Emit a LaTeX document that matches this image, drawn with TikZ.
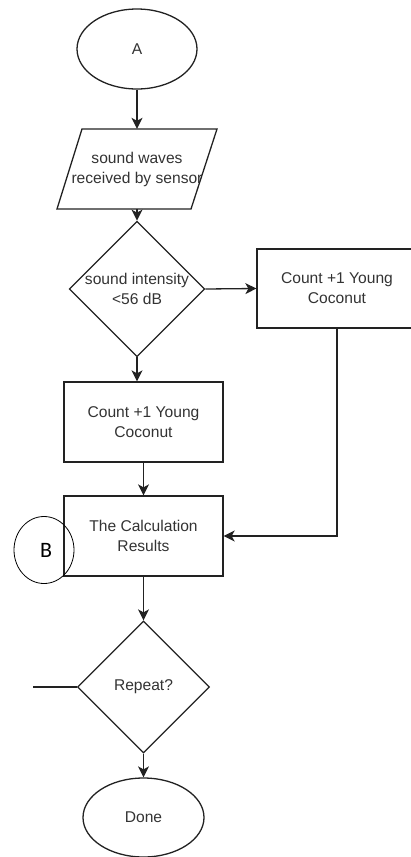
\documentclass[tikz,border=0pt]{standalone}
\usepackage{fontspec}
\setmainfont{Liberation Sans}
\newfontfamily\bfont{Carlito}
\usetikzlibrary{shapes.geometric,arrows.meta}
\definecolor{linec}{HTML}{222222}
\definecolor{textc}{HTML}{333333}
\tikzset{
  base/.style={draw=linec, line width=1.3pt, text=textc, align=center, inner sep=0pt,
    font=\fontsize{15.6}{20}\selectfont},
  term/.style={base, ellipse, minimum width=120pt, minimum height=80pt},
  procbox/.style={base, rectangle, minimum width=159pt, minimum height=80pt},
  decision/.style={base, diamond, aspect=1, minimum width=132pt, minimum height=132pt},
  iobox/.style={rectangle, text=textc, align=center, inner sep=0pt, minimum width=110pt, minimum height=80pt,
    font=\fontsize{15.6}{20}\selectfont},
  conn/.style={draw=linec, line width=1.3pt, -{Stealth[length=11pt,width=11pt,inset=3pt]}},
  plainline/.style={draw=linec, line width=1.3pt},
  marker/.style={draw=black, line width=0.8pt, ellipse, minimum width=60pt, minimum height=67pt, inner sep=0pt,
    font=\bfont\fontsize{22}{24}\selectfont}
}
\begin{document}
\begin{tikzpicture}[x=1pt,y=-1pt]
\useasboundingbox (0,0) rectangle (411,857);
\clip (0,0) rectangle (411,857);
\node[term] (A) at (137,49) {A};
\node[iobox] (io) at (137,169) {sound waves\\received by sensor};
\draw[draw=linec, line width=1.3pt] (82,129) -- (217,129) -- (191,209) -- (57,209) -- cycle;
\node[decision] (d1) at (137,289) {sound intensity\\<56 dB};
\node[procbox, minimum width=160pt, minimum height=79pt] (R) at (337,288.5) {Count +1 Young\\Coconut};
\node[procbox] (L) at (143.5,422) {Count +1 Young\\Coconut};
\node[procbox] (C) at (143.5,536) {The Calculation\\Results};
\node[marker] (B) at (44,550) {\hspace*{4pt}B};
\node[decision] (d2) at (143.5,687) {Repeat?};
\node[term, minimum width=121pt, minimum height=79pt] (done) at (143.5,817.5) {Done};
\coordinate (loopend) at (33,687);

\draw[conn] (A.south) -- (io.north);
\draw[conn] (io.south) -- (d1.north);
\draw[conn] (d1.east) -- (R.west);
\draw[conn] (d1.south) -- (d1.south |- L.north);
\draw[conn] (L.south) -- (C.north);
\draw[conn] (R.south) |- (C.east);
\draw[conn] (C.south) -- (d2.north);
\draw[plainline] (loopend) -- (d2.west);
\draw[conn] (d2.south) -- (done.north);
\end{tikzpicture}
\end{document}
